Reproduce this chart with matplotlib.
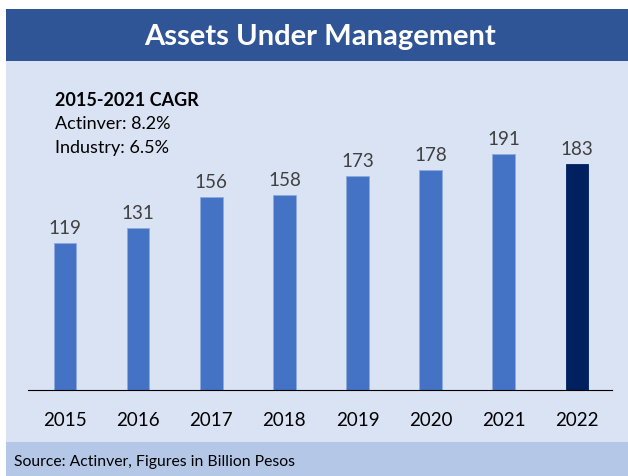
import matplotlib
matplotlib.use("Agg")
import matplotlib.pyplot as plt
from matplotlib.patches import Rectangle

years = ["2015", "2016", "2017", "2018", "2019", "2020", "2021", "2022"]
values = [119, 131, 156, 158, 173, 178, 191, 183]
bar_colors = ["#4472C4"] * 7 + ["#002060"]
title = "Assets Under Management"
cagr_lines = ["2015-2021 CAGR", "Actinver: 8.2%", "Industry: 6.5%"]
source = "Source: Actinver, Figures in Billion Pesos"

plt.rcParams['font.family'] = ['Lato', 'DejaVu Sans']
W, H = 628, 477
fig = plt.figure(figsize=(W / 100, H / 100), dpi=100)
fig.patch.set_facecolor("white")

def px_rect(x0, y0, x1, y1, color):
    fig.patches.append(Rectangle((x0 / W, 1 - y1 / H), (x1 - x0) / W, (y1 - y0) / H,
                                 transform=fig.transFigure, facecolor=color,
                                 edgecolor="none", zorder=-5))

px_rect(6, 62, W, 443, "#DAE3F3")
px_rect(6, 10, W, 62, "#2F5597")
px_rect(6, 443, W, H, "#B4C7E7")

fig.text(320 / W, 1 - 37 / H, title, color="white", fontsize=21, fontweight="bold",
         ha="center", va="center")

fig.text(55 / W, 1 - 100 / H, cagr_lines[0], fontsize=13, fontweight="bold",
         color="black", ha="left", va="center")
fig.text(55 / W, 1 - 124 / H, cagr_lines[1], fontsize=13, color="black",
         ha="left", va="center")
fig.text(55 / W, 1 - 148 / H, cagr_lines[2], fontsize=13, color="black",
         ha="left", va="center")

fig.text(14 / W, 1 - 462 / H, source, fontsize=11.3, color="black", ha="left", va="center")

ax_left, ax_right = 28, 612
ax_bottom, ax_top = 391, 80
ax = fig.add_axes([ax_left / W, 1 - ax_bottom / H, (ax_right - ax_left) / W,
                   (ax_bottom - ax_top) / H])
ax.set_zorder(1)
ax.set_facecolor("none")
x = list(range(len(years)))
bars = ax.bar(x, values, width=0.31, color=bar_colors, edgecolor="#8FAADC",
              linewidth=0.6, zorder=2)
bars[-1].set_edgecolor("#002060")
ax.set_xlim(-0.506, 7.479)
ax.set_ylim(0, (ax_bottom - ax_top) / 1.236)
for xi, v in zip(x, values):
    ax.annotate(str(v), (xi, v), xytext=(0, 5), textcoords="offset points",
                ha="center", va="bottom", fontsize=13.5, color="#404040")
ax.set_xticks(x)
ax.set_xticklabels(years, fontsize=13.5, color="black")
ax.tick_params(axis="x", length=0, pad=15)
ax.set_yticks([])
for s in ["top", "right", "left"]:
    ax.spines[s].set_visible(False)
ax.spines["bottom"].set_color("black")
ax.spines["bottom"].set_linewidth(0.8)

fig.savefig("out.png", dpi=100, facecolor=fig.get_facecolor())
